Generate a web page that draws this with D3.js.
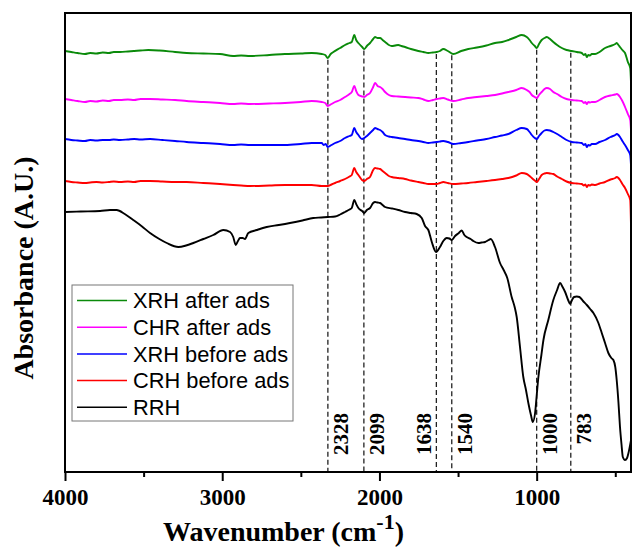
<!DOCTYPE html>
<html>
<head>
<meta charset="utf-8">
<script src="https://cdn.jsdelivr.net/npm/d3@7"></script>
<style>
  html, body { margin: 0; padding: 0; background: #fff; }
  svg { display: block; }
</style>
</head>
<body>
<svg id="chart" width="632" height="547"></svg>
<script>
// FTIR spectra, stacked with vertical offsets; values are [wavenumber (cm-1), absorbance (A.U.)]
const seriesNames = ["XRH after ads", "CHR after ads", "XRH before ads", "CRH before ads", "RRH"];
const seriesColors = ["#0a8a0a", "#ff00ff", "#0000ff", "#ff0000", "#000000"];

const xrhAfter = [
  [4000,4.21],[3960,4.20],[3920,4.19],[3873,4.18],[3840,4.19],[3800,4.185],[3760,4.195],[3720,4.19],[3690,4.20],
  [3650,4.20],[3600,4.205],[3560,4.21],[3520,4.215],[3470,4.22],[3400,4.215],[3300,4.20],[3226,4.19],[3120,4.185],
  [3014,4.18],[2931,4.16],[2880,4.165],[2823,4.16],[2700,4.17],[2601,4.18],[2500,4.185],[2431,4.19],[2367,4.18],
  [2345,4.17],[2329,4.14],[2310,4.18],[2293,4.20],[2250,4.24],[2219,4.27],[2190,4.29],[2176,4.30],[2160,4.37],
  [2148,4.32],[2134,4.29],[2110,4.25],[2096,4.23],[2080,4.26],[2060,4.29],[2040,4.33],[2028,4.35],[2012,4.34],
  [1996,4.34],[1980,4.32],[1964,4.30],[1940,4.27],[1922,4.26],[1900,4.265],[1880,4.27],[1860,4.26],[1837,4.25],
  [1800,4.23],[1753,4.21],[1720,4.20],[1689,4.19],[1660,4.195],[1636,4.20],[1615,4.21],[1594,4.23],[1565,4.21],
  [1530,4.18],[1480,4.21],[1435,4.23],[1380,4.245],[1320,4.265],[1265,4.29],[1220,4.30],[1180,4.32],[1130,4.35],
  [1095,4.37],[1063,4.35],[1045,4.32],[1031,4.29],[1012,4.26],[999,4.24],[985,4.28],[968,4.32],[950,4.34],
  [936,4.35],[915,4.33],[894,4.30],[870,4.27],[840,4.24],[810,4.22],[777,4.21],[745,4.20],[713,4.19],
  [700,4.17],[690,4.18],[681,4.15],[672,4.17],[660,4.165],[650,4.18],[628,4.18],[600,4.20],[565,4.24],
  [530,4.26],[500,4.28],[491,4.29],[480,4.27],[470,4.25],[455,4.22],[438,4.19],[420,4.10],[405,4.04],[400,3.90]
];

const chrAfter = [
  [4000,3.73],[3960,3.72],[3920,3.71],[3873,3.70],[3840,3.71],[3800,3.705],[3760,3.715],[3720,3.71],[3690,3.72],
  [3650,3.72],[3600,3.725],[3560,3.72],[3520,3.73],[3459,3.73],[3380,3.725],[3300,3.72],[3226,3.71],[3120,3.70],
  [3014,3.69],[2931,3.68],[2880,3.685],[2823,3.68],[2700,3.685],[2601,3.69],[2500,3.70],[2431,3.71],[2367,3.70],
  [2345,3.69],[2329,3.66],[2305,3.68],[2282,3.70],[2250,3.72],[2219,3.75],[2190,3.78],[2176,3.80],[2160,3.86],
  [2148,3.81],[2134,3.77],[2110,3.755],[2096,3.75],[2080,3.77],[2060,3.79],[2040,3.85],[2028,3.89],[2012,3.86],
  [1996,3.85],[1980,3.83],[1964,3.80],[1940,3.77],[1922,3.76],[1880,3.755],[1837,3.75],[1800,3.745],[1753,3.74],
  [1720,3.725],[1689,3.71],[1660,3.72],[1636,3.73],[1615,3.735],[1594,3.74],[1565,3.725],[1530,3.71],[1480,3.725],
  [1435,3.74],[1380,3.75],[1320,3.76],[1265,3.77],[1220,3.785],[1180,3.80],[1130,3.82],[1095,3.84],[1063,3.82],
  [1045,3.80],[1031,3.77],[1012,3.75],[999,3.74],[985,3.77],[968,3.80],[950,3.83],[936,3.84],[915,3.83],
  [894,3.80],[870,3.78],[840,3.75],[810,3.73],[777,3.72],[745,3.715],[713,3.71],[700,3.69],[690,3.70],
  [681,3.68],[672,3.70],[660,3.695],[650,3.70],[628,3.70],[600,3.72],[565,3.75],[530,3.765],[500,3.775],
  [491,3.78],[480,3.77],[470,3.75],[455,3.71],[438,3.65],[420,3.58],[405,3.52],[400,3.42]
];

const xrhBefore = [
  [4000,3.33],[3960,3.32],[3920,3.315],[3873,3.31],[3840,3.32],[3800,3.315],[3760,3.32],[3720,3.32],[3690,3.325],
  [3650,3.32],[3600,3.325],[3560,3.33],[3520,3.325],[3459,3.33],[3380,3.32],[3300,3.31],[3226,3.30],[3120,3.29],
  [3014,3.28],[2931,3.27],[2880,3.275],[2823,3.27],[2700,3.27],[2601,3.27],[2500,3.28],[2431,3.29],[2367,3.29],
  [2355,3.27],[2342,3.28],[2329,3.25],[2305,3.27],[2282,3.29],[2250,3.31],[2219,3.34],[2190,3.36],[2176,3.37],
  [2160,3.44],[2148,3.40],[2134,3.37],[2111,3.33],[2096,3.34],[2080,3.36],[2060,3.39],[2040,3.42],[2028,3.44],
  [2012,3.43],[1996,3.42],[1980,3.40],[1964,3.37],[1940,3.355],[1922,3.35],[1900,3.345],[1880,3.34],[1837,3.33],
  [1800,3.32],[1753,3.31],[1720,3.30],[1689,3.29],[1660,3.295],[1636,3.30],[1615,3.305],[1594,3.31],[1565,3.30],
  [1530,3.28],[1480,3.29],[1435,3.30],[1380,3.315],[1320,3.33],[1265,3.35],[1220,3.365],[1180,3.38],[1130,3.42],
  [1095,3.44],[1063,3.43],[1045,3.40],[1031,3.37],[1012,3.34],[999,3.33],[985,3.36],[968,3.39],[950,3.415],
  [936,3.42],[915,3.415],[894,3.40],[870,3.38],[840,3.35],[810,3.32],[777,3.30],[745,3.295],[713,3.29],
  [700,3.27],[690,3.28],[681,3.25],[672,3.27],[660,3.265],[650,3.28],[628,3.28],[600,3.30],[565,3.32],
  [530,3.35],[500,3.37],[491,3.38],[480,3.37],[470,3.35],[455,3.31],[438,3.27],[420,3.22],[405,3.17],[400,3.07]
];

const crhBefore = [
  [4000,2.91],[3960,2.90],[3920,2.895],[3873,2.89],[3840,2.895],[3800,2.90],[3760,2.895],[3720,2.90],[3690,2.905],
  [3650,2.90],[3600,2.905],[3560,2.90],[3520,2.91],[3459,2.91],[3380,2.905],[3300,2.90],[3226,2.90],[3120,2.89],
  [3014,2.88],[2931,2.87],[2880,2.865],[2823,2.86],[2700,2.865],[2601,2.87],[2500,2.87],[2431,2.87],[2367,2.86],
  [2329,2.86],[2305,2.875],[2282,2.89],[2250,2.91],[2219,2.93],[2190,2.955],[2176,2.97],[2160,3.04],[2148,3.00],
  [2134,2.97],[2111,2.92],[2096,2.91],[2080,2.93],[2060,2.95],[2040,3.02],[2028,3.04],[2012,3.035],[1996,3.03],
  [1980,3.01],[1964,2.99],[1940,2.96],[1922,2.95],[1880,2.94],[1837,2.93],[1800,2.915],[1753,2.90],[1720,2.89],
  [1689,2.88],[1660,2.88],[1636,2.88],[1615,2.89],[1594,2.90],[1565,2.89],[1530,2.88],[1480,2.885],[1435,2.89],
  [1380,2.90],[1320,2.91],[1265,2.92],[1220,2.93],[1180,2.94],[1130,2.965],[1095,2.99],[1063,2.98],[1045,2.96],
  [1031,2.94],[1012,2.915],[999,2.90],[985,2.93],[968,2.97],[950,2.985],[936,2.99],[915,2.985],[894,2.98],
  [870,2.955],[840,2.93],[810,2.905],[777,2.89],[745,2.885],[713,2.88],[700,2.865],[690,2.875],[681,2.85],
  [672,2.87],[660,2.865],[650,2.875],[628,2.87],[600,2.885],[565,2.90],[530,2.925],[500,2.94],[491,2.95],
  [480,2.94],[470,2.92],[455,2.88],[438,2.84],[420,2.78],[405,2.72],[400,2.47]
];

const rrh = [
  [4000,2.60],[3900,2.605],[3777,2.61],[3714,2.62],[3671,2.62],[3620,2.58],[3566,2.52],[3510,2.455],[3459,2.39],
  [3400,2.33],[3353,2.29],[3279,2.25],[3230,2.265],[3184,2.29],[3120,2.33],[3057,2.37],[2993,2.42],[2950,2.40],
  [2930,2.35],[2914,2.27],[2900,2.31],[2887,2.34],[2870,2.34],[2855,2.33],[2834,2.39],[2780,2.42],[2717,2.45],
  [2640,2.47],[2569,2.49],[2490,2.515],[2421,2.54],[2370,2.545],[2329,2.55],[2282,2.555],[2250,2.575],[2219,2.60],
  [2190,2.625],[2176,2.64],[2160,2.72],[2148,2.68],[2134,2.64],[2110,2.61],[2096,2.59],[2080,2.62],[2060,2.64],
  [2040,2.69],[2028,2.70],[2012,2.695],[1996,2.69],[1980,2.67],[1964,2.65],[1920,2.635],[1880,2.62],[1837,2.60],
  [1800,2.59],[1763,2.58],[1731,2.54],[1710,2.46],[1689,2.42],[1667,2.30],[1640,2.20],[1615,2.25],[1594,2.31],
  [1572,2.34],[1555,2.335],[1540,2.32],[1519,2.36],[1495,2.39],[1477,2.415],[1460,2.37],[1445,2.35],[1420,2.33],
  [1403,2.31],[1371,2.29],[1350,2.295],[1328,2.30],[1305,2.32],[1292,2.33],[1265,2.25],[1233,2.09],[1210,2.02],
  [1187,1.94],[1159,1.75],[1140,1.65],[1127,1.55],[1106,1.25],[1085,0.95],[1068,0.82],[1053,0.69],[1035,0.56],
  [1025,0.50],[1010,0.59],[999,0.78],[989,0.95],[970,1.17],[957,1.32],[926,1.52],[894,1.72],[870,1.82],
  [851,1.89],[835,1.85],[819,1.80],[800,1.72],[787,1.68],[775,1.72],[762,1.75],[745,1.755],[728,1.75],
  [705,1.71],[681,1.67],[660,1.63],[639,1.59],[610,1.50],[586,1.39],[565,1.29],[544,1.19],[525,1.14],
  [512,1.12],[500,1.05],[491,0.92],[480,0.70],[470,0.45],[460,0.27],[452,0.15],[438,0.12],[425,0.14],
  [416,0.19],[400,0.32]
];

const allSeries = [xrhAfter, chrAfter, xrhBefore, crhBefore, rrh];

// Marked band positions (cm-1)
const bandPositions = [2328, 2099, 1638, 1540, 1000, 783];
const bandLabels = ["2328", "2099", "1638", "1540", "1000", "783"];

// Axis ticks
const majorTicks = [4000, 3000, 2000, 1000];
const minorTicks = [3500, 2500, 1500, 500];

const xTitle = "Wavenumber (cm";
const xTitleSup = "-1";
const yTitle = "Absorbance (A.U.)";

// ---- layout ----
const svg = d3.select("#chart");
const plot = { left: 65, right: 631, top: 13, bottom: 472 };
const serif = "'Liberation Serif', 'Times New Roman', Times, serif";
const sans = "'Liberation Sans', Arial, Helvetica, sans-serif";

const x = d3.scaleLinear().domain([4000, 400]).range([plot.left, plot.right]);
const y = d3.scaleLinear().domain([0, 4.59]).range([plot.bottom, plot.top]);

svg.append("defs").append("clipPath").attr("id", "plotClip")
  .append("rect")
  .attr("x", plot.left).attr("y", plot.top)
  .attr("width", plot.right - plot.left).attr("height", plot.bottom - plot.top);

// interpolate a series' value at a wavenumber
function valueAt(series, w) {
  for (let i = 0; i < series.length - 1; i++) {
    const [w0, v0] = series[i], [w1, v1] = series[i + 1];
    if ((w <= w0 && w >= w1)) {
      const t = (w0 - w) / (w0 - w1);
      return v0 + t * (v1 - v0);
    }
  }
  return series[series.length - 1][1];
}

// dashed band markers, from the top spectrum down to the axis
const bandG = svg.append("g");
bandPositions.forEach((w, i) => {
  bandG.append("line")
    .attr("x1", x(w)).attr("x2", x(w))
    .attr("y1", y(valueAt(xrhAfter, w)) + 2).attr("y2", plot.bottom)
    .attr("stroke", "#222").attr("stroke-width", 1.3)
    .attr("stroke-dasharray", "5,3");
});

// band labels: right of the line, unless the next band is too close
bandPositions.forEach((w, i) => {
  const next = bandPositions[i + 1];
  const crowded = next !== undefined && Math.abs(x(next) - x(w)) < 20;
  const bx = crowded ? x(w) - 5 : x(w) + 20;
  svg.append("text")
    .attr("transform", `translate(${bx},413) rotate(-90)`)
    .attr("text-anchor", "end")
    .attr("font-family", serif).attr("font-weight", "bold")
    .attr("font-size", 21).attr("fill", "#000")
    .text(bandLabels[i]);
});

// spectra
const line = d3.line()
  .x(d => x(d[0])).y(d => y(d[1]))
  .curve(d3.curveMonotoneX);

const specG = svg.append("g").attr("clip-path", "url(#plotClip)");
allSeries.forEach((s, i) => {
  specG.append("path")
    .datum(s)
    .attr("d", line)
    .attr("fill", "none")
    .attr("stroke", seriesColors[i])
    .attr("stroke-width", 1.9)
    .attr("stroke-linejoin", "round");
});

// frame
svg.append("rect")
  .attr("x", plot.left).attr("y", plot.top)
  .attr("width", plot.right - plot.left).attr("height", plot.bottom - plot.top)
  .attr("fill", "none").attr("stroke", "#000").attr("stroke-width", 2);

// bottom axis
const axisMajor = d3.axisBottom(x).tickValues(majorTicks).tickSize(9).tickFormat(d3.format("d"));
const axisMinor = d3.axisBottom(x).tickValues(minorTicks).tickSize(5).tickFormat("");

const gMinor = svg.append("g").attr("transform", `translate(0,${plot.bottom})`).call(axisMinor);
gMinor.select(".domain").remove();
gMinor.selectAll("line").attr("stroke", "#000").attr("stroke-width", 2);

const gMajor = svg.append("g").attr("transform", `translate(0,${plot.bottom})`).call(axisMajor);
gMajor.select(".domain").remove();
gMajor.selectAll("line").attr("stroke", "#000").attr("stroke-width", 2);
gMajor.selectAll("text")
  .attr("font-family", serif).attr("font-weight", "bold")
  .attr("font-size", 23).attr("fill", "#000")
  .attr("y", 17).attr("dy", "0.71em");

// axis titles
const xt = svg.append("text")
  .attr("x", 163).attr("y", 541)
  .attr("font-family", serif).attr("font-weight", "bold")
  .attr("font-size", 28).attr("fill", "#000");
xt.append("tspan").text(xTitle);
xt.append("tspan").attr("font-size", 22).attr("dy", -12).text(xTitleSup);
xt.append("tspan").attr("dy", 12).text(")");

svg.append("text")
  .attr("transform", "translate(33,268) rotate(-90)")
  .attr("text-anchor", "middle")
  .attr("font-family", serif).attr("font-weight", "bold")
  .attr("font-size", 28).attr("fill", "#000")
  .text(yTitle);

// legend
const legend = { x: 72, y: 285, w: 221, h: 136, row: 26.7 };
const lg = svg.append("g");
lg.append("rect")
  .attr("x", legend.x).attr("y", legend.y)
  .attr("width", legend.w).attr("height", legend.h)
  .attr("fill", "#fff").attr("stroke", "#777").attr("stroke-width", 1);
seriesNames.forEach((name, i) => {
  const cy = legend.y + 15.5 + i * legend.row;
  lg.append("line")
    .attr("x1", legend.x + 5).attr("x2", legend.x + 55)
    .attr("y1", cy).attr("y2", cy)
    .attr("stroke", seriesColors[i]).attr("stroke-width", 1.5);
  lg.append("text")
    .attr("x", legend.x + 61).attr("y", cy)
    .attr("dy", "0.36em")
    .attr("font-family", sans).attr("font-size", 21.8).attr("fill", "#000")
    .text(name);
});
</script>
</body>
</html>
